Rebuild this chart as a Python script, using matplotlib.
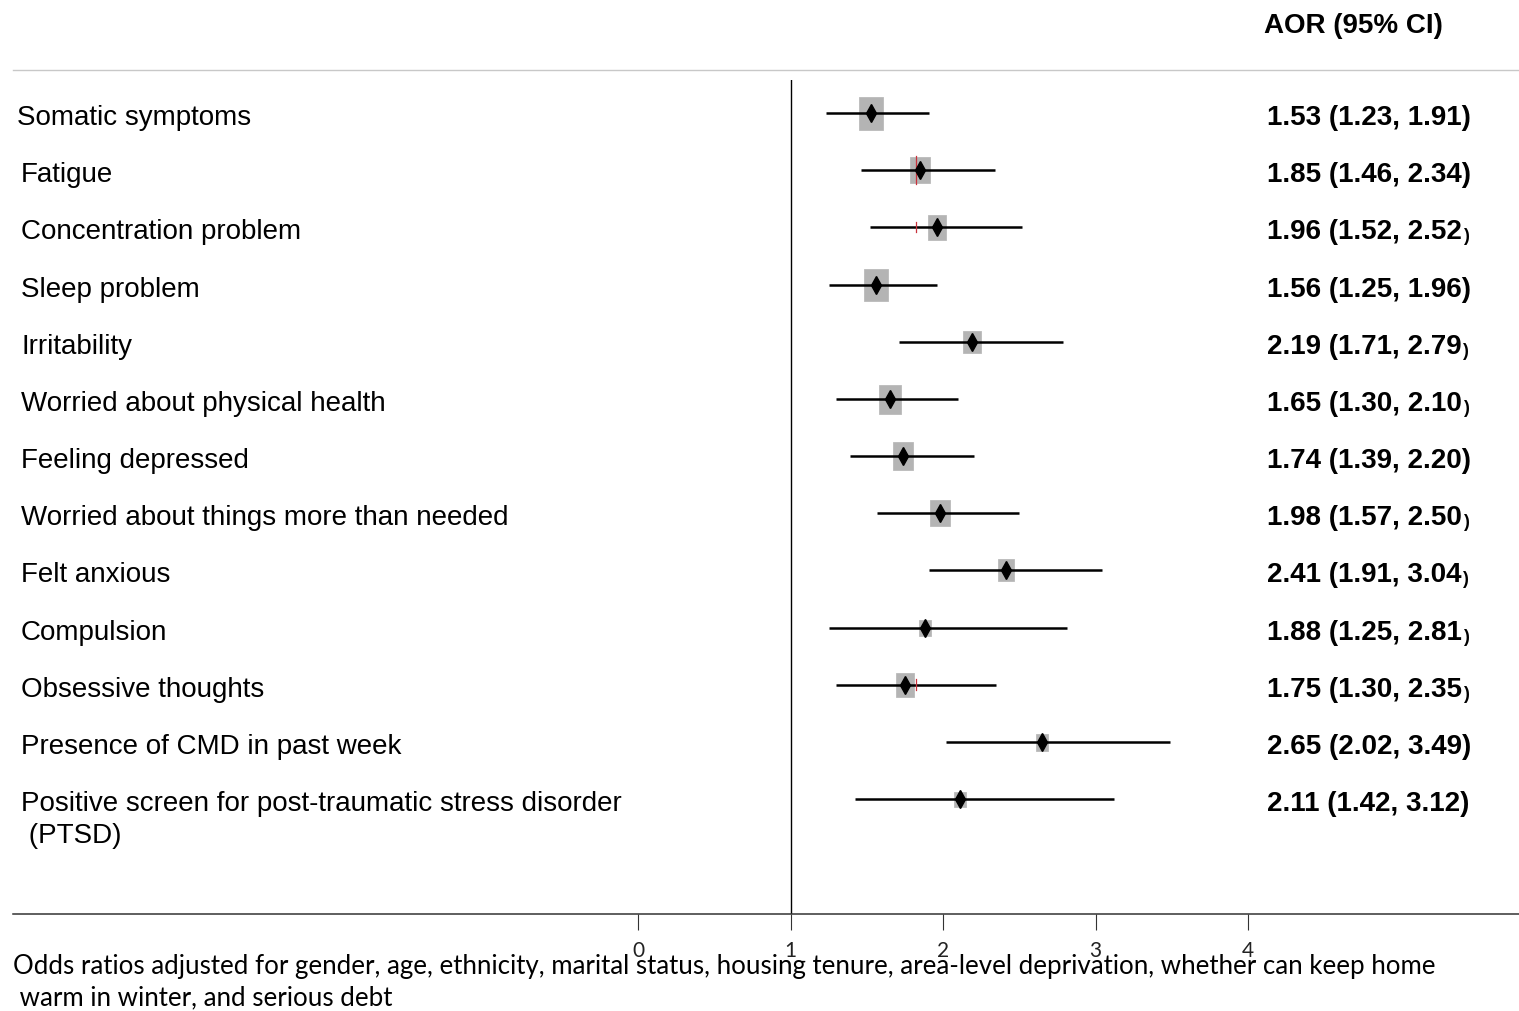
import matplotlib
matplotlib.use("Agg")
import matplotlib.pyplot as plt
from matplotlib.path import Path
from matplotlib.transforms import blended_transform_factory, offset_copy

# ---------------- data ----------------
labels = [
    "Somatic symptoms",
    "Fatigue",
    "Concentration problem",
    "Sleep problem",
    "Irritability",
    "Worried about physical health",
    "Feeling depressed",
    "Worried about things more than needed",
    "Felt anxious",
    "Compulsion",
    "Obsessive thoughts",
    "Presence of CMD in past week",
    "Positive screen for post-traumatic stress disorder\n (PTSD)",
]
aor = [1.53, 1.85, 1.96, 1.56, 2.19, 1.65, 1.74, 1.98, 2.41, 1.88, 1.75, 2.65, 2.11]
lo = [1.23, 1.46, 1.52, 1.25, 1.71, 1.30, 1.39, 1.57, 1.91, 1.25, 1.30, 2.02, 1.42]
hi = [1.91, 2.34, 2.52, 1.96, 2.79, 2.10, 2.20, 2.50, 3.04, 2.81, 2.35, 3.49, 3.12]
# relative box weights
weights = [33, 27, 25, 32, 23, 29, 28, 26, 22, 16, 24, 17, 15]
# rows whose closing parenthesis is printed smaller in the reference
small_paren = [False, False, True, False, True, True, False, True, True, True, True, False, False]
# faint red reference marks (overall estimate) visible on a few rows
ref_value = 1.82
ref_rows = [1, 2, 10]
ref_half = [0.24, 0.09, 0.10]
xticks = [0, 1, 2, 3, 4]
header = "AOR (95% CI)"
footnote = ("Odds ratios adjusted for gender, age, ethnicity, marital status, housing tenure, "
            "area-level deprivation, whether can keep home\n warm in winter, and serious debt")

# ---------------- layout ----------------
W, H = 1519, 1011
DPI = 100
fig = plt.figure(figsize=(W / DPI, H / DPI), dpi=DPI)

x0_px, x1_px = 13, 1519
xmin = 0 - (638 - x0_px) / 152.5
xmax = 4 + (x1_px - 1248) / 152.5
ytop_px, ybot_px = 80, 914
row0_px, row_step = 113, 57.17
ymin_d = (ytop_px - row0_px) / row_step
ymax_d = (ybot_px - row0_px) / row_step

ax = fig.add_axes([x0_px / W, 1 - ybot_px / H, (x1_px - x0_px) / W, (ybot_px - ytop_px) / H])
ax.set_xlim(xmin, xmax)
ax.set_ylim(ymax_d, ymin_d)
for s in ["top", "left", "right"]:
    ax.spines[s].set_visible(False)
ax.spines["bottom"].set_color("#333333")
ax.spines["bottom"].set_linewidth(1.1)
ax.set_yticks([])
ax.set_xticks(xticks)
ax.set_xticklabels([str(t) for t in xticks], fontfamily="Lato", fontsize=15, color="#222222")
ax.tick_params(axis="x", direction="out", length=11.5, width=0.8, color="#333333", pad=8)

ax.axvline(1, color="black", lw=1.0, zorder=1)

# box marker with portrait aspect
rect = Path([(-0.37, -0.5), (0.37, -0.5), (0.37, 0.5), (-0.37, 0.5), (-0.37, -0.5)],
            [Path.MOVETO, Path.LINETO, Path.LINETO, Path.LINETO, Path.CLOSEPOLY])

rows = list(range(len(labels)))
for i in rows:
    ax.plot([lo[i], hi[i]], [i, i], color="black", lw=1.8, zorder=2, solid_capstyle="butt")
    ax.plot([aor[i]], [i], marker=rect, markersize=weights[i] * 0.72,
            markerfacecolor="#b4b4b4", markeredgecolor="#b4b4b4", mew=0.5,
            linestyle="none", zorder=1.5)
    ax.plot([aor[i]], [i], marker="d", markersize=9.2, color="black",
            linestyle="none", zorder=3)

for r, hh in zip(ref_rows, ref_half):
    ax.plot([ref_value, ref_value], [r - hh, r + hh], color="#c8323c", lw=0.9, zorder=2.5)

# ---------------- texts ----------------
tr = blended_transform_factory(fig.transFigure, ax.transData)
tr_lab = offset_copy(tr, fig=fig, x=0, y=-2, units="dots")
for i in rows:
    xl = 17 if i == 0 else 21
    lines = labels[i].split("\n")
    for k, line in enumerate(lines):
        ax.text(xl / W, i + k * 32 / row_step, line, transform=tr_lab, ha="left",
                va="center_baseline", fontfamily="Liberation Sans", fontsize=20)

for i in rows:
    s = "%.2f (%.2f, %.2f)" % (aor[i], lo[i], hi[i])
    if small_paren[i]:
        t = ax.text(1267 / W, i, s[:-1], transform=tr_lab, ha="left", va="center_baseline",
                    fontfamily="Liberation Sans", fontweight="bold", fontsize=20)
        ax.annotate(")", xy=(1, 0), xycoords=t, xytext=(0.5, 0), textcoords="offset points",
                    ha="left", va="bottom", fontfamily="Liberation Sans",
                    fontweight="bold", fontsize=13)
    else:
        ax.text(1267 / W, i, s, transform=tr_lab, ha="left", va="center_baseline",
                fontfamily="Liberation Sans", fontweight="bold", fontsize=20)

fig.text(1264 / W, 1 - 26 / H, header, ha="left", va="center",
         fontfamily="Liberation Sans", fontweight="bold", fontsize=20)
fig.add_artist(plt.Line2D([13 / W, 1.0], [1 - 70 / H, 1 - 70 / H],
                          transform=fig.transFigure, color="#c8c8c8", lw=1.0))

fig.text(13 / W, 1 - 954 / H, footnote, ha="left", va="top",
         fontfamily="Lato", fontsize=18.6, linespacing=1.34)

fig.savefig("out.png", dpi=DPI)
